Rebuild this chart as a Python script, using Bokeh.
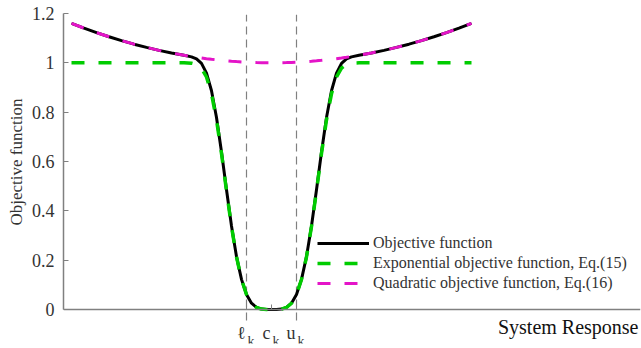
from bokeh.plotting import figure
from bokeh.models import (Range1d, FixedTicker, Legend, LegendItem, Label, Title)
from bokeh.embed import file_html
from bokeh.resources import INLINE

# ---- data (curves are symmetric about c_k = 0) ----
x_half = [0, 0.2, 0.4, 0.6, 0.8, 1.0, 1.2, 1.4, 1.6, 1.8, 2.0, 2.2, 2.4, 2.6,
          2.8, 3.0, 3.2, 3.5, 4.0, 4.5, 5.0, 5.5, 6.0, 6.5, 7.0, 7.5, 8.0]
exp_half = [0, 0.0001, 0.0016, 0.0081, 0.0253, 0.0606, 0.1216, 0.2134, 0.3361,
            0.4812, 0.6321, 0.7687, 0.8743, 0.9425, 0.9785, 0.9937, 0.9986,
            0.9999, 1, 1, 1, 1, 1, 1, 1, 1, 1]
quad_half = [1.0, 1.0001, 1.0004, 1.0009, 1.0016, 1.0025, 1.0036, 1.0049,
             1.0064, 1.0081, 1.01, 1.0121, 1.0144, 1.0169, 1.0196, 1.0225,
             1.0256, 1.0306, 1.04, 1.0506, 1.0625, 1.0756, 1.09, 1.1056,
             1.1225, 1.1406, 1.16]
obj_half = [0, 0.0001, 0.0016, 0.0081, 0.0253, 0.0608, 0.1220, 0.2144, 0.3383,
            0.4851, 0.6384, 0.7780, 0.8869, 0.9584, 0.9977, 1.0161, 1.0242,
            1.0305, 1.04, 1.0506, 1.0625, 1.0756, 1.09, 1.1056, 1.1225,
            1.1406, 1.16]

x_ticks = [-1, 0, 1]
x_tick_main = ["\u2113", "c", "u"]
x_tick_sub = ["k", "k", "k"]
bound_x = [-1, 1]
y_ticks = [0, 0.2, 0.4, 0.6, 0.8, 1.0, 1.2]
y_tick_labels = ["0", "0.2", "0.4", "0.6", "0.8", "1", "1.2"]

legend_labels = ["Objective function",
                 "Exponential objective function, Eq.(15)",
                 "Quadratic objective function, Eq.(16)"]
x_label = "System Response"
y_label = "Objective function"


def mirror(xs, ys):
    left_x = [-v for v in reversed(xs[1:])]
    left_y = list(reversed(ys[1:]))
    return left_x + list(xs), left_y + list(ys)


xs, exp_y = mirror(x_half, exp_half)
_, quad_y = mirror(x_half, quad_half)
_, obj_y = mirror(x_half, obj_half)

FONT = "Liberation Serif"
TXT = "#333333"
AX = "#808080"

X0, X1 = -8.32, 14.76
Y0, Y1 = -0.138, 1.2

p = figure(width=641, height=348, output_backend="svg", toolbar_location=None,
           x_range=Range1d(X0, X1), y_range=Range1d(Y0, Y1),
           min_border_left=63, min_border_right=1, min_border_top=13,
           min_border_bottom=5)
p.outline_line_color = None
p.grid.visible = False
p.background_fill_color = "white"

# vertical bound lines
p.segment(x0=bound_x, y0=[-0.045] * 2, x1=bound_x, y1=[1.195] * 2,
          line_color="#808080", line_width=1.2, line_dash="8 5")

r_obj = p.line(xs, obj_y, line_color="black", line_width=3)
r_exp = p.line(xs, exp_y, line_color="#00cc00", line_width=3.5, line_dash="13 14")
r_quad = p.line(xs, quad_y, line_color="#e414c8", line_width=3, line_dash="13 14")

# x axis (sits at y = 0 inside the frame)
xa = p.xaxis[0]
xa.fixed_location = 0
xa.ticker = FixedTicker(ticks=x_ticks)
xa.major_label_overrides = {t: "" for t in x_ticks}
xa.major_label_text_font_size = "1px"
xa.major_label_standoff = 0
xa.major_tick_in = 5
xa.major_tick_out = 0
xa.minor_tick_line_color = None
xa.axis_line_color = AX
xa.axis_line_width = 1.5
xa.major_tick_line_color = AX

ya = p.yaxis[0]
ya.ticker = FixedTicker(ticks=y_ticks)
ya.major_label_overrides = dict(zip(y_ticks, y_tick_labels))
ya.bounds = (0, 1.2)
ya.major_tick_in = 5
ya.major_tick_out = 0
ya.minor_tick_line_color = None
ya.axis_line_color = AX
ya.axis_line_width = 1.5
ya.major_tick_line_color = AX
ya.major_label_text_font = FONT
ya.major_label_text_font_size = "18px"
ya.major_label_text_color = TXT
ya.major_label_standoff = 9

p.add_layout(Title(text=y_label, align="right", offset=85,
                   vertical_align="middle", standoff=4,
                   text_font=FONT, text_font_size="17px",
                   text_font_style="normal", text_color=TXT), "left")

# x tick labels with subscripts
for t, m, s in zip(x_ticks, x_tick_main, x_tick_sub):
    p.add_layout(Label(x=t, y=-0.0973, text=m, text_align="right",
                       text_baseline="alphabetic", x_offset=-1,
                       text_font=FONT, text_font_size="18px", text_color=TXT))
    p.add_layout(Label(x=t, y=-0.1297, text=s, text_align="left",
                       text_baseline="alphabetic", x_offset=1,
                       text_font=FONT, text_font_size="14px", text_color=TXT))

p.add_layout(Label(x=X1, y=-0.072, text=x_label, text_align="right",
                   text_baseline="alphabetic", x_offset=-2,
                   text_font=FONT, text_font_size="20px", text_color="#111111"))

legend = Legend(items=[LegendItem(label=legend_labels[0], renderers=[r_obj]),
                       LegendItem(label=legend_labels[1], renderers=[r_exp]),
                       LegendItem(label=legend_labels[2], renderers=[r_quad])],
                location=(254, 50))
legend.glyph_width = 52
legend.glyph_height = 20
legend.label_height = 20
legend.spacing = 0
legend.padding = 0
legend.margin = 0
legend.label_standoff = 4
legend.label_text_font = FONT
legend.label_text_font_size = "16px"
legend.label_text_color = TXT
legend.border_line_alpha = 0
legend.background_fill_alpha = 0
p.add_layout(legend)

open("out.html", "w").write(file_html(p, INLINE))
